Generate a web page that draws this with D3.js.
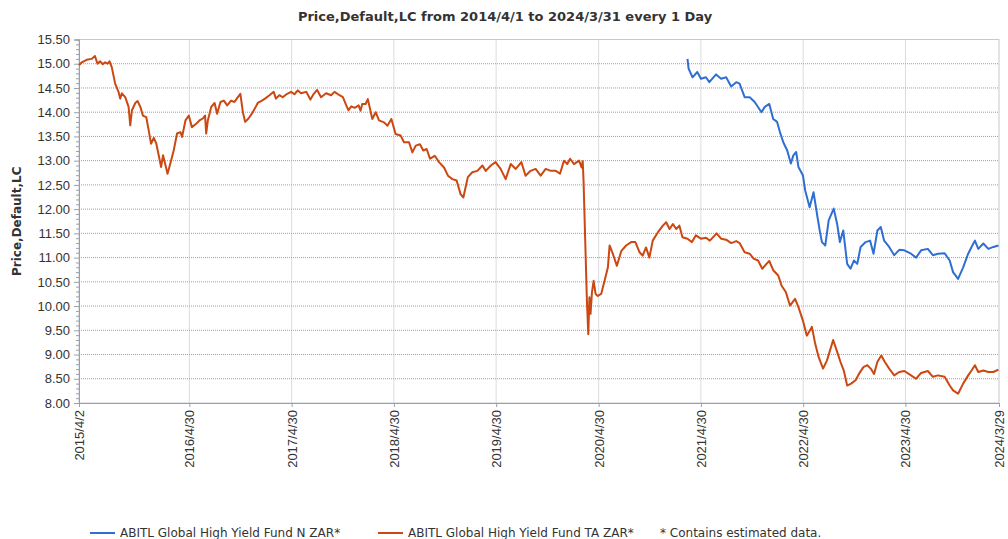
<!DOCTYPE html>
<html>
<head>
<meta charset="utf-8" />
<title>Price,Default,LC</title>
<style>
  body { margin: 0; background: #fff; font-family: "DejaVu Sans", Verdana, sans-serif; }
  svg text { fill: #333; }
</style>
</head>
<body>
<svg id="chart" width="1008" height="539"></svg>
<script src="https://d3js.org/d3.v7.min.js"></script>
<script>
// fund TA ZAR (orange)
var taDates = ["2015-04-02","2015-04-12","2015-04-29","2015-05-17","2015-05-29","2015-06-07","2015-06-16","2015-06-26","2015-07-04","2015-07-13",
  "2015-07-20","2015-07-28","2015-08-09","2015-08-21","2015-08-27","2015-09-02","2015-09-14","2015-09-26","2015-10-02","2015-10-08",
  "2015-10-20","2015-10-28","2015-11-07","2015-11-16","2015-11-28","2015-12-07","2015-12-15","2015-12-25","2016-01-03","2016-01-13",
  "2016-01-20","2016-01-27","2016-02-05","2016-02-12","2016-02-22","2016-03-05","2016-03-17","2016-03-29","2016-04-04","2016-04-16",
  "2016-04-28","2016-05-09","2016-05-24","2016-06-05","2016-06-17","2016-06-25","2016-06-29","2016-07-05","2016-07-17","2016-07-29",
  "2016-08-07","2016-08-19","2016-08-31","2016-09-12","2016-09-26","2016-10-08","2016-10-20","2016-10-29","2016-11-07","2016-11-15",
  "2016-11-27","2016-12-09","2016-12-21","2016-12-30","2017-01-11","2017-01-25","2017-02-10","2017-02-25","2017-03-05","2017-03-17",
  "2017-03-29","2017-04-14","2017-04-28","2017-05-10","2017-05-22","2017-06-03","2017-06-21","2017-07-06","2017-07-18","2017-07-30",
  "2017-08-13","2017-08-31","2017-09-18","2017-09-30","2017-10-18","2017-10-30","2017-11-11","2017-11-19","2017-11-29","2017-12-11",
  "2017-12-25","2018-01-01","2018-01-07","2018-01-19","2018-01-27","2018-02-12","2018-02-24","2018-03-08","2018-03-26","2018-04-07",
  "2018-04-21","2018-05-06","2018-05-24","2018-06-05","2018-06-23","2018-07-05","2018-07-17","2018-08-01","2018-08-13","2018-08-25",
  "2018-09-06","2018-09-23","2018-10-08","2018-10-26","2018-11-09","2018-11-25","2018-12-10","2018-12-24","2019-01-03","2019-01-11",
  "2019-01-19","2019-02-04","2019-02-22","2019-03-12","2019-03-24","2019-04-11","2019-04-28","2019-05-16","2019-06-03","2019-06-21",
  "2019-07-09","2019-07-29","2019-08-13","2019-08-31","2019-09-18","2019-10-06","2019-10-24","2019-11-11","2019-11-29","2019-12-14",
  "2019-12-28","2020-01-09","2020-01-19","2020-02-02","2020-02-20","2020-02-29","2020-03-04","2020-03-07","2020-03-13","2020-03-19",
  "2020-03-24","2020-03-28","2020-04-01","2020-04-06","2020-04-12","2020-04-19","2020-04-27","2020-05-09","2020-05-21","2020-06-02",
  "2020-06-08","2020-06-20","2020-07-04","2020-07-20","2020-08-06","2020-08-24","2020-09-08","2020-09-23","2020-10-04","2020-10-16",
  "2020-10-28","2020-11-09","2020-11-27","2020-12-15","2020-12-27","2021-01-08","2021-01-20","2021-02-01","2021-02-12","2021-02-23",
  "2021-03-13","2021-03-29","2021-04-12","2021-04-30","2021-05-18","2021-06-01","2021-06-25","2021-07-11","2021-07-29","2021-08-16",
  "2021-09-03","2021-09-15","2021-10-03","2021-10-21","2021-11-04","2021-11-20","2021-12-05","2021-12-20","2021-12-30","2022-01-13",
  "2022-01-31","2022-02-12","2022-02-27","2022-03-14","2022-04-01","2022-04-13","2022-04-29","2022-05-13","2022-05-31","2022-06-12",
  "2022-06-24","2022-07-10","2022-07-24","2022-08-15","2022-08-29","2022-09-10","2022-09-22","2022-10-04","2022-10-18","2022-11-03",
  "2022-11-15","2022-12-01","2022-12-15","2022-12-27","2023-01-08","2023-01-20","2023-02-03","2023-02-15","2023-03-03","2023-03-21",
  "2023-04-08","2023-04-26","2023-05-20","2023-06-07","2023-06-25","2023-07-19","2023-08-06","2023-08-24","2023-09-17","2023-10-05",
  "2023-10-17","2023-11-04","2023-11-22","2023-12-10","2023-12-22","2024-01-03","2024-01-15","2024-02-02","2024-02-20","2024-03-09",
  "2024-03-27"];
var taValues = [14.97,15.03,15.08,15.10,15.16,15.00,15.05,14.99,15.03,15.00,
  15.05,14.93,14.59,14.42,14.28,14.39,14.31,14.11,13.73,14.04,
  14.19,14.23,14.11,13.93,13.90,13.62,13.35,13.47,13.35,13.07,
  12.87,13.11,12.90,12.73,12.94,13.21,13.56,13.59,13.49,13.83,
  13.93,13.69,13.76,13.83,13.87,13.93,13.56,13.83,14.11,14.19,
  13.97,14.21,14.24,14.14,14.24,14.21,14.31,14.38,14.00,13.80,
  13.87,13.97,14.09,14.19,14.23,14.28,14.35,14.42,14.28,14.35,
  14.31,14.38,14.42,14.37,14.45,14.39,14.42,14.26,14.38,14.46,
  14.31,14.39,14.35,14.42,14.35,14.31,14.14,14.04,14.12,14.09,
  14.14,14.03,14.17,14.17,14.27,13.86,14.00,13.83,13.79,13.72,
  13.86,13.55,13.52,13.38,13.38,13.17,13.31,13.34,13.21,13.24,
  13.04,13.10,12.97,12.86,12.69,12.62,12.59,12.31,12.24,12.45,
  12.66,12.76,12.79,12.90,12.79,12.90,12.97,12.83,12.62,12.93,
  12.83,12.97,12.69,12.79,12.83,12.69,12.83,12.79,12.79,12.73,
  13.00,12.93,13.04,12.93,13.00,12.86,12.99,12.59,11.35,10.11,
  9.42,10.18,9.84,10.28,10.52,10.25,10.21,10.25,10.52,10.80,
  11.25,11.07,10.83,11.14,11.25,11.32,11.32,11.11,11.04,11.21,
  11.00,11.35,11.52,11.66,11.73,11.59,11.69,11.59,11.66,11.42,
  11.39,11.32,11.46,11.39,11.41,11.35,11.50,11.39,11.37,11.30,
  11.34,11.30,11.11,11.08,10.98,10.94,10.77,10.87,10.93,10.74,
  10.63,10.42,10.29,10.01,10.15,9.98,9.70,9.39,9.57,9.22,
  8.95,8.71,8.88,9.30,9.06,8.85,8.67,8.36,8.40,8.47,
  8.60,8.74,8.78,8.71,8.60,8.85,8.98,8.85,8.71,8.57,
  8.64,8.66,8.57,8.50,8.62,8.66,8.54,8.57,8.54,8.36,
  8.26,8.19,8.40,8.57,8.67,8.78,8.64,8.67,8.64,8.64,
  8.69];

// fund N ZAR (blue)
var nDates = ["2021-03-13","2021-03-17","2021-03-31","2021-04-17","2021-04-30","2021-05-18","2021-05-30","2021-06-23","2021-07-11","2021-07-29",
  "2021-08-16","2021-09-03","2021-09-15","2021-10-03","2021-10-21","2021-11-08","2021-12-02","2021-12-14","2021-12-30","2022-01-13",
  "2022-01-27","2022-02-06","2022-02-18","2022-03-04","2022-03-17","2022-03-26","2022-04-05","2022-04-13","2022-04-29","2022-05-07",
  "2022-05-23","2022-06-06","2022-06-18","2022-06-28","2022-07-06","2022-07-18","2022-07-30","2022-08-17","2022-08-29","2022-09-08",
  "2022-09-20","2022-10-04","2022-10-16","2022-10-28","2022-11-09","2022-11-21","2022-12-09","2022-12-25","2023-01-06","2023-01-20",
  "2023-02-01","2023-02-13","2023-03-03","2023-03-21","2023-04-08","2023-04-26","2023-05-20","2023-06-07","2023-06-25","2023-07-19",
  "2023-08-06","2023-08-24","2023-09-17","2023-10-05","2023-10-17","2023-11-04","2023-11-22","2023-12-10","2023-12-22","2024-01-03",
  "2024-01-15","2024-02-02","2024-02-20","2024-03-09","2024-03-27"];
var nValues = [15.10,14.90,14.72,14.83,14.69,14.72,14.62,14.78,14.69,14.72,
  14.53,14.62,14.59,14.31,14.31,14.21,14.00,14.11,14.17,13.86,
  13.80,13.59,13.38,13.21,12.94,13.11,13.18,12.87,12.70,12.39,
  12.04,12.35,11.91,11.56,11.32,11.25,11.77,12.01,11.70,11.32,
  11.56,10.87,10.77,10.94,10.87,11.22,11.32,11.35,11.08,11.56,
  11.63,11.35,11.22,11.05,11.16,11.15,11.08,11.00,11.15,11.18,
  11.05,11.08,11.09,10.94,10.70,10.56,10.80,11.08,11.22,11.35,
  11.18,11.29,11.18,11.22,11.25];

var yTicks = [8.00,8.50,9.00,9.50,10.00,10.50,11.00,11.50,12.00,12.50,13.00,13.50,14.00,14.50,15.00,15.50];
var xTickDates = ["2015-04-02","2016-04-30","2017-04-30","2018-04-30","2019-04-30","2020-04-30","2021-04-30","2022-04-30","2023-04-30","2024-03-29"];
var xTickLabels = ["2015/4/2","2016/4/30","2017/4/30","2018/4/30","2019/4/30","2020/4/30","2021/4/30","2022/4/30","2023/4/30","2024/3/29"];

var seriesNames = ["ABITL Global High Yield Fund N ZAR*","ABITL Global High Yield Fund TA ZAR*"];
var seriesColors = ["#2f6fd3","#cc4812"];

var parse = d3.timeParse("%Y-%m-%d");
var plotL = 79, plotR = 999, plotT = 39.5, plotB = 403;

var svg = d3.select("#chart");

var x = d3.scaleTime()
  .domain([parse(xTickDates[0]), parse(xTickDates[xTickDates.length-1])])
  .range([plotL, plotR]);
var y = d3.scaleLinear().domain([8, 15.5]).range([plotB, plotT]);

// title
svg.append("text")
  .attr("x", 505).attr("y", 21)
  .attr("text-anchor", "middle")
  .style("font-size", "13px").style("font-weight", "bold")
  .text("Price,Default,LC from 2014/4/1 to 2024/3/31 every 1 Day");

// grid
svg.append("g").selectAll("line").data(yTicks.slice(1, -1)).enter().append("line")
  .attr("x1", plotL).attr("x2", plotR)
  .attr("y1", function(d){ return y(d); }).attr("y2", function(d){ return y(d); })
  .attr("stroke", "#9a9ea6").attr("stroke-dasharray", "1,1");
svg.append("g").selectAll("line").data(xTickDates.slice(1, -1)).enter().append("line")
  .attr("x1", function(d){ return x(parse(d)); }).attr("x2", function(d){ return x(parse(d)); })
  .attr("y1", plotT).attr("y2", plotB)
  .attr("stroke", "#b4b8c0").attr("stroke-dasharray", "1,1");

// frame
svg.append("rect")
  .attr("x", plotL).attr("y", plotT).attr("width", plotR-plotL).attr("height", plotB-plotT)
  .attr("fill", "none").attr("stroke", "#c4c8d0");

// y axis
var yAxis = d3.axisLeft(y).tickValues(yTicks).tickFormat(d3.format(".2f")).tickSize(5).tickPadding(4);
var gy = svg.append("g").attr("transform", "translate(" + plotL + ",0)").call(yAxis);
var minor = d3.range(80, 155).filter(function(v){ return v % 5 != 0; }).map(function(v){ return v/10; });
var gym = svg.append("g").attr("transform", "translate(" + plotL + ",0)")
  .call(d3.axisLeft(y).tickValues(minor).tickFormat("").tickSize(3));
[gy, gym].forEach(function(g){
  g.select(".domain").attr("stroke", "#9aa0aa");
  g.selectAll(".tick line").attr("stroke", "#9aa0aa");
});
gy.selectAll("text").style("font-size", "13px").attr("fill", "#333");

svg.append("text")
  .attr("transform", "translate(21," + ((plotT+plotB)/2) + ") rotate(-90)")
  .attr("text-anchor", "middle")
  .style("font-size", "12px").style("font-weight", "bold")
  .text("Price,Default,LC");

// x axis
var xAxis = d3.axisBottom(x).tickValues(xTickDates.map(parse))
  .tickFormat(function(d, i){ return xTickLabels[i]; }).tickSize(4);
var gx = svg.append("g").attr("transform", "translate(0," + plotB + ")").call(xAxis);
gx.select(".domain").attr("stroke", "#9aa0aa");
gx.selectAll(".tick line").attr("stroke", "#9aa0aa");
gx.selectAll("text")
  .style("font-size", "13px").attr("fill", "#333")
  .attr("text-anchor", "end")
  .attr("transform", "rotate(-90)")
  .attr("x", -7).attr("y", 0).attr("dy", "0.35em");

// lines
var line = d3.line()
  .x(function(d){ return x(d[0]); })
  .y(function(d){ return y(d[1]); });

var taData = taDates.map(function(d, i){ return [parse(d), taValues[i]]; });
var nData = nDates.map(function(d, i){ return [parse(d), nValues[i]]; });

svg.append("path").datum(taData)
  .attr("d", line).attr("fill", "none")
  .attr("stroke", seriesColors[1]).attr("stroke-width", 2).attr("stroke-linejoin", "round");
svg.append("path").datum(nData)
  .attr("d", line).attr("fill", "none")
  .attr("stroke", seriesColors[0]).attr("stroke-width", 2).attr("stroke-linejoin", "round");

// legend
var legendX = [90, 378];
seriesNames.forEach(function(name, i){
  svg.append("line")
    .attr("x1", legendX[i]).attr("x2", legendX[i] + 25)
    .attr("y1", 533).attr("y2", 533)
    .attr("stroke", seriesColors[i]).attr("stroke-width", 2);
  svg.append("text")
    .attr("x", legendX[i] + 30).attr("y", 537)
    .style("font-size", "12px")
    .text(name);
});
svg.append("text")
  .attr("x", 660).attr("y", 537)
  .style("font-size", "12px")
  .text("*  Contains estimated data.");
</script>
</body>
</html>
